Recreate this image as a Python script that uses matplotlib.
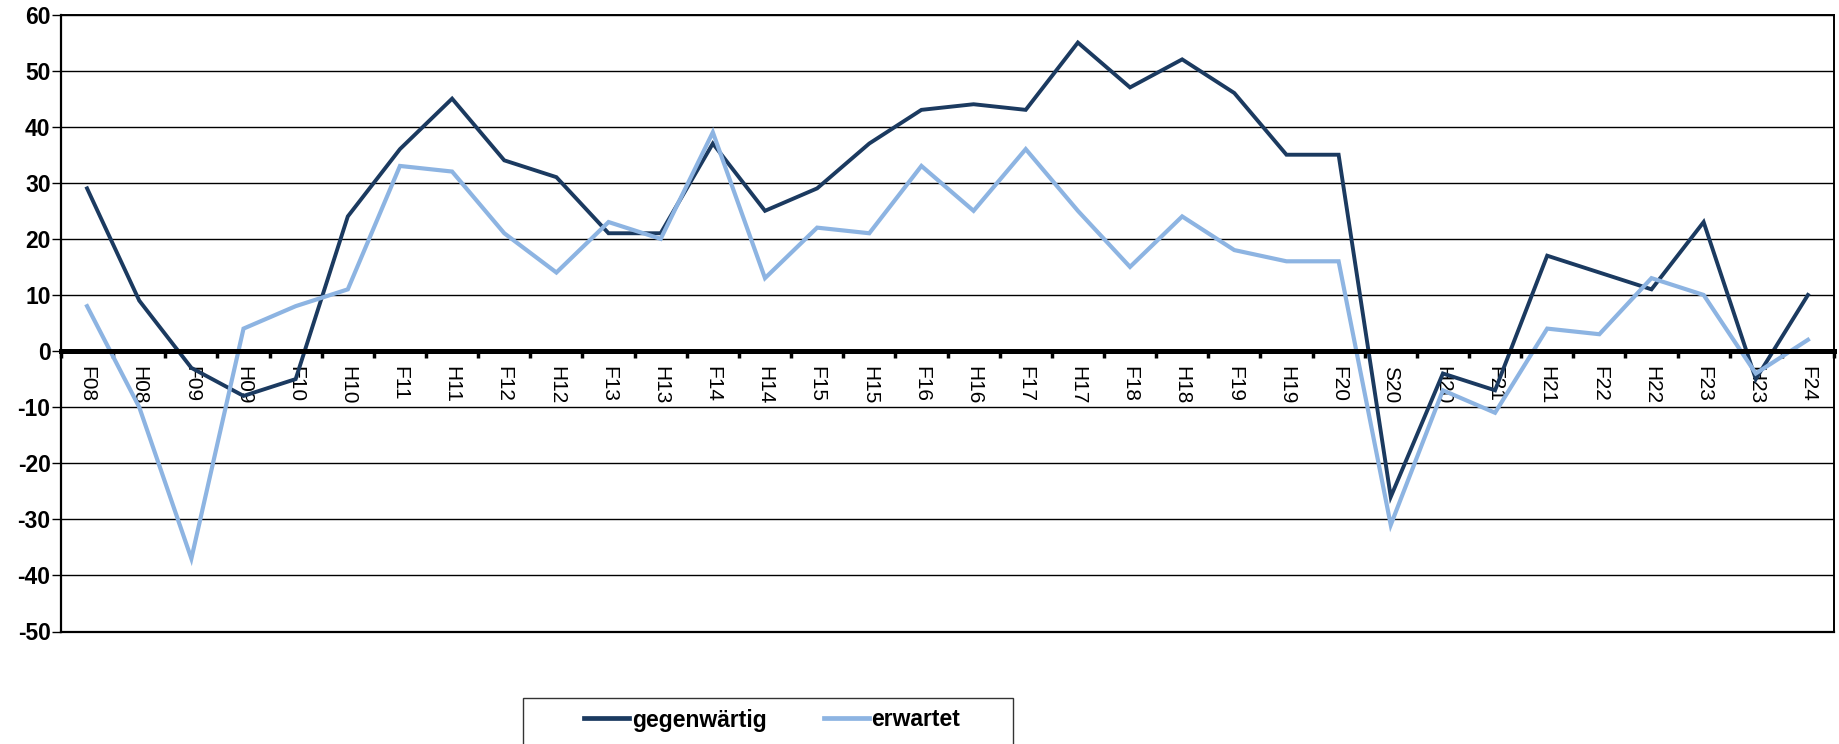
import matplotlib
matplotlib.use("Agg")
import matplotlib.pyplot as plt
from matplotlib.patches import Rectangle
import numpy as np

plt.rcParams['font.family'] = ['Liberation Sans', 'DejaVu Sans']

categories = ["F08", "H08", "F09", "H09", "F10", "H10", "F11", "H11", "F12", "H12",
              "F13", "H13", "F14", "H14", "F15", "H15", "F16", "H16", "F17", "H17",
              "F18", "H18", "F19", "H19", "F20", "S20", "H20", "F21", "H21", "F22",
              "H22", "F23", "H23", "F24"]
gegenwaertig = [29, 9, -3, -8, -5, 24, 36, 45, 34, 31,
                21, 21, 37, 25, 29, 37, 43, 44, 43, 55,
                47, 52, 46, 35, 35, -26, -4, -7, 17, 14,
                11, 23, -5, 10]
erwartet = [8, -10, -37, 4, 8, 11, 33, 32, 21, 14,
            23, 20, 39, 13, 22, 21, 33, 25, 36, 25,
            15, 24, 18, 16, 16, -31, -7, -11, 4, 3,
            13, 10, -4, 2]
series_names = ["gegenwärtig", "erwartet"]
yticks = list(range(-50, 61, 10))

DARK = "#1B3A60"
LIGHT = "#8DB4E2"

W, H = 1840, 744
fig = plt.figure(figsize=(W / 100, H / 100), dpi=100)
ax = fig.add_axes([61 / W, 1 - 631.5 / H, (1834 - 61) / W, (631.5 - 14.5) / H])

x = np.arange(len(categories))
l1, = ax.plot(x, gegenwaertig, color=DARK, lw=2.8, solid_joinstyle='miter', zorder=2)
l2, = ax.plot(x, erwartet, color=LIGHT, lw=3.0, solid_joinstyle='miter', zorder=2)

ax.set_xlim(-0.5, len(categories) - 0.5)
ax.set_ylim(-50, 60)
ax.set_yticks(yticks)
ax.set_yticklabels([str(v) for v in yticks], fontsize=16.5, fontweight='bold')
ax.tick_params(axis='y', direction='out', length=6.5, width=1.0, pad=1, color='black')
ax.yaxis.grid(True, color='black', lw=1.0, zorder=0)
ax.set_axisbelow(True)

# x axis at zero
ax.spines['bottom'].set_position(('data', 0))
ax.spines['bottom'].set_linewidth(3.6)
ax.spines['bottom'].set_zorder(2.5)
ax.set_xticks(np.arange(-0.5, len(categories)), minor=False)
ax.set_xticklabels([], minor=False)
ax.tick_params(axis='x', which='major', direction='out', length=5, width=2.5, color='black')
ax.set_xticks(x, minor=True)
ax.set_xticklabels(categories, minor=True, rotation=270, fontsize=15, ha='center', va='top')
ax.tick_params(axis='x', which='minor', length=0, pad=11)

for s in ['left', 'right', 'top']:
    ax.spines[s].set_color('black')
ax.spines['left'].set_linewidth(1.6)
ax.spines['right'].set_linewidth(1.4)
ax.spines['top'].set_linewidth(1.4)
ax.axhline(-50, color='black', lw=1.6, clip_on=False, zorder=2.6)

# legend box (extends below figure edge)
fig.patches.append(Rectangle((523 / W, -0.05), (1013 - 523) / W, (1 - 698 / H) + 0.05,
                             transform=fig.transFigure, facecolor='white',
                             edgecolor='#333333', lw=1.0, zorder=0))
leg = fig.legend([l1, l2], series_names, loc='center left',
                 bbox_to_anchor=(573 / W, 1 - 720 / H), bbox_transform=fig.transFigure,
                 ncol=2, frameon=False, borderpad=0, handlelength=1.95,
                 handletextpad=0.12, columnspacing=2.5,
                 prop={'weight': 'bold', 'size': 16.5})
for lh in leg.get_lines():
    lh.set_linewidth(3.4)

fig.savefig("out.png", dpi=100)
